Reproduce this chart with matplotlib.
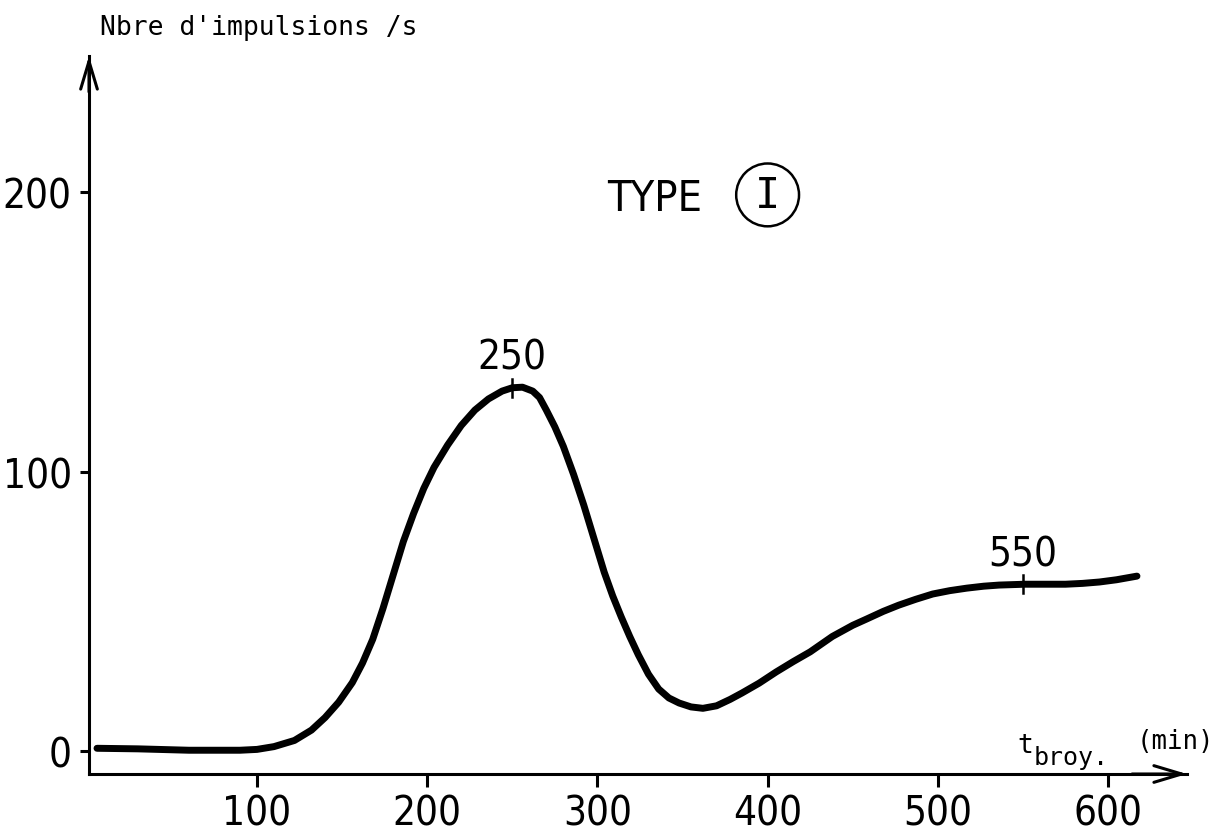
import matplotlib
matplotlib.use("Agg")
import matplotlib.pyplot as plt
from matplotlib import font_manager
from matplotlib.font_manager import FontProperties

# grinding time (min) vs count rate (impulsions/s)
t_min = [6, 30, 60, 90, 100, 110, 122, 132, 140, 148, 156, 162, 168, 174,
         180, 186, 192, 198, 204, 212, 220, 228, 236, 244, 250, 256, 262,
         266, 270, 275, 280, 286, 292, 298, 304, 309, 314, 319, 324, 330,
         336, 342, 348, 355, 362, 370, 378, 385, 395, 405, 415, 425, 438,
         450, 458, 468, 477, 487, 497, 507, 517, 527, 536, 551, 565, 575,
         585, 595, 605, 617]
counts = [1.0, 0.8, 0.3, 0.3, 0.6, 1.6, 3.8, 7.5, 12, 17.5, 24.5, 31.5, 40,
          51, 63, 75, 85, 94, 101.5, 109.5, 116.5, 122, 126, 128.8, 130,
          130.2, 128.8, 126.5, 122, 116, 109, 99, 88, 76, 64, 55.5, 48, 41,
          34.5, 27.5, 22.2, 19, 17.2, 15.8, 15.3, 16.2, 18.5, 20.8, 24.3,
          28.3, 32, 35.5, 41, 45, 47.2, 50, 52.2, 54.3, 56.2, 57.4, 58.3, 59,
          59.4, 59.7, 59.7, 59.7, 60, 60.5, 61.3, 62.6]

x_ticks = [100, 200, 300, 400, 500, 600]
y_ticks = [0, 100, 200]
mark_t = [250, 550]
mark_y = [130, 59.7]
mark_labels = ["250", "550"]

# look for a narrow sans font (the scan uses condensed lettering)
narrow_file = None
for f in font_manager.fontManager.ttflist:
    if f.stretch in ('condensed', 'semi-condensed', 'extra-condensed') \
            and 'Mono' not in f.name and 'Serif' not in f.name \
            and f.style == 'normal' and f.weight in (400, 'normal', 'regular'):
        narrow_file = f.fname
        break
if narrow_file is None:
    for f in font_manager.fontManager.ttflist:
        if 'Narrow' in f.name or 'Condensed' in f.name:
            narrow_file = f.fname
            break

big = 29
if narrow_file:
    lab_font = FontProperties(fname=narrow_file, size=big)
else:
    lab_font = FontProperties(family='DejaVu Sans', size=26)
type_font = lab_font.copy()
type_font.set_size(31)
mono = "DejaVu Sans Mono"

fig = plt.figure(figsize=(12.18, 8.37), dpi=100)
ax = fig.add_axes([89/1218, 62/837, 1098/1218, 718/837])
ax.set_xlim(1.3, 646.4)
ax.set_ylim(-8.2, 248.7)

for s in ['top', 'right']:
    ax.spines[s].set_visible(False)
for s in ['left', 'bottom']:
    ax.spines[s].set_linewidth(2.2)

ax.set_xticks(x_ticks)
ax.set_yticks(y_ticks)
ax.tick_params(axis='x', direction='out', length=9, width=2.2, pad=5)
ax.tick_params(axis='y', direction='out', length=6.5, width=2.2, pad=6)
for lbl in ax.get_xticklabels() + ax.get_yticklabels():
    lbl.set_fontproperties(lab_font)

# arrow heads on both axes
arr = dict(arrowstyle='->,head_length=1.0,head_width=0.3', lw=2.2, color='k',
           mutation_scale=20, shrinkA=0, shrinkB=0)
ax.annotate('', xy=(0, 1), xytext=(0, 0.95), xycoords='axes fraction', arrowprops=arr)
ax.annotate('', xy=(1, 0), xytext=(0.95, 0), xycoords='axes fraction', arrowprops=arr)

ax.plot(t_min, counts, color='k', lw=5, solid_capstyle='round',
        solid_joinstyle='round', clip_on=False)

for t, y, lab in zip(mark_t, mark_y, mark_labels):
    ax.plot([t, t], [y - 3.3, y + 3.3], color='k', lw=1.8)
    ax.text(t, y + 10.8, lab, ha='center', va='center', fontproperties=lab_font)

ax.text(306, 198, "TYPE", ha='left', va='center', fontproperties=type_font)
ax.text(400, 199, "I", ha='center', va='center', fontsize=30, family=mono,
        bbox=dict(boxstyle='circle,pad=0.25', fc='none', ec='k', lw=1.8))

fig.text(100/1218, 1 - 28/837, "Nbre d'impulsions /s", family=mono,
         fontsize=19, ha='left', va='center')
ax.text(547, -0.4, "t", family=mono, fontsize=19, ha='left', va='baseline')
ax.text(556.5, -4.6, "broy.", family=mono, fontsize=18, ha='left', va='baseline')
ax.text(617, 3.6, "(min)", family=mono, fontsize=18.5, ha='left', va='center')

fig.savefig("out.png", dpi=100)
